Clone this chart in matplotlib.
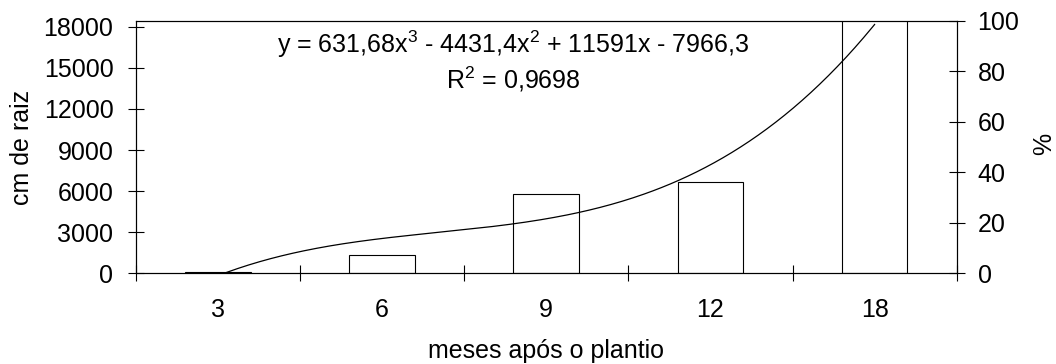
import numpy as np
import matplotlib
matplotlib.use("Agg")
import matplotlib.pyplot as plt
from matplotlib.ticker import FixedLocator, NullFormatter

plt.rcParams['font.family'] = ['Liberation Sans', 'DejaVu Sans']
plt.rcParams['mathtext.default'] = 'regular'

# ---- data ----
months = ['3', '6', '9', '12', '18']
raiz_cm = [130, 1320, 5810, 6700, 18470]
left_ticks = [0, 3000, 6000, 9000, 12000, 15000, 18000]
right_ticks = [0, 20, 40, 60, 80, 100]
eq_line1 = r"y = 631,68x$^{3}$ - 4431,4x$^{2}$ + 11591x - 7966,3"
eq_line2 = r"R$^{2}$ = 0,9698"

W, H = 1056, 364
fig = plt.figure(figsize=(W / 100, H / 100), dpi=100)
L, R, T, B = 135.7, 956.7, 20.7, 273.3
ax = fig.add_axes([L / W, 1 - B / H, (R - L) / W, (B - T) / H])

pos = np.arange(1, len(months) + 1)
ax.bar(pos, raiz_cm, width=0.4, facecolor='white', edgecolor='black', linewidth=0.8, zorder=2)

# polynomial (cubic) trendline fitted to the bars
coef = np.polyfit(pos, raiz_cm, 3)
xs = np.linspace(pos[0], pos[-1], 300)
ax.plot(xs, np.polyval(coef, xs), color='black', linewidth=0.9, zorder=3)

fs = 18
ax.set_xlim(0.5, 5.5)
ax.set_ylim(0, 18440)
ax.set_yticks(left_ticks)
ax.set_yticklabels([str(v) for v in left_ticks], fontsize=fs)
ax.tick_params(axis='y', direction='inout', length=12, width=0.8, pad=10)

ax.xaxis.set_major_locator(FixedLocator(np.arange(0.5, 5.6, 1.0)))
ax.xaxis.set_major_formatter(NullFormatter())
ax.xaxis.set_minor_locator(FixedLocator(pos))
ax.set_xticklabels(months, minor=True, fontsize=fs)
ax.tick_params(axis='x', which='major', direction='inout', length=12, width=0.8)
ax.tick_params(axis='x', which='minor', length=0, pad=18)

for s in ax.spines.values():
    s.set_linewidth(0.8)

ax2 = ax.twinx()
ax2.set_ylim(0, 100)
ax2.set_yticks(right_ticks)
ax2.set_yticklabels([str(v) for v in right_ticks], fontsize=fs)
ax2.tick_params(axis='y', direction='inout', length=12, width=0.8, pad=9)
for s in ax2.spines.values():
    s.set_linewidth(0.8)

# axis titles placed in figure pixel positions
fig.text(22 / W, 1 - 147 / H, 'cm de raiz', rotation=90, ha='center', va='center', fontsize=fs)
fig.text(1044 / W, 1 - 144 / H, '%', rotation=90, ha='center', va='center', fontsize=fs)
fig.text(546 / W, 1 - 358 / H, 'meses após o plantio', ha='center', va='baseline', fontsize=fs)

fig.text(513 / W, 1 - 53 / H, eq_line1, ha='center', va='baseline', fontsize=fs)
fig.text(513 / W, 1 - 88 / H, eq_line2, ha='center', va='baseline', fontsize=fs)

fig.savefig('out.png', dpi=100)
